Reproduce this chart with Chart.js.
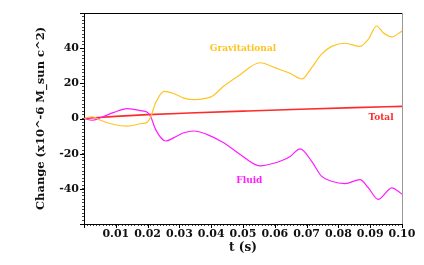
<!DOCTYPE html>
<html><head><meta charset="utf-8">
<script src="https://cdn.jsdelivr.net/npm/chart.js@4/dist/chart.umd.min.js"></script>
<style>html,body{margin:0;padding:0;background:#fff}#w{width:424px;height:265px}</style>
</head><body><div id="w"><canvas id="c" width="424" height="265"></canvas></div>
<script>
const gravT = [0,0.0026,0.0052,0.0094,0.0136,0.0178,0.0199,0.021,0.0225,0.0252,0.0283,0.0314,0.0346,0.0386,0.0403,0.0438,0.049,0.0553,0.0606,0.0648,0.0685,0.0716,0.0747,0.0779,0.0821,0.0868,0.0894,0.092,0.0941,0.0968,0.1];
const gravV = [0,1.0,-1.0,-3.4,-4.3,-3.0,-2.1,1.0,8.8,15.4,14.1,11.6,10.7,11.6,12.6,18.2,24.8,31.7,28.5,25.7,22.5,29,36.6,41,42.8,41,45,52.6,48.8,46.4,49.8];
const fluidT = [0,0.0026,0.0052,0.0094,0.0136,0.0178,0.0199,0.021,0.0225,0.0257,0.0283,0.0314,0.0346,0.0386,0.0438,0.049,0.0553,0.0606,0.0628,0.0648,0.068,0.0716,0.0747,0.0779,0.0821,0.0868,0.0894,0.0925,0.0968,0.1];
const fluidV = [0,-1.0,0.4,3.5,5.6,4.5,3.5,1.0,-6.2,-12.8,-10.9,-8.1,-7.1,-9,-13.7,-20.3,-26.9,-25,-23.5,-21.6,-17.3,-24.4,-32.8,-35.7,-37,-34.8,-39.4,-46,-39.4,-43];
const totalT = [0,0.01,0.02,0.033,0.05,0.068,0.085,0.1];
const totalV = [0,1.2,2.2,3.1,4.2,5.3,6.2,6.9];
const seriesNames = ['Gravitational','Fluid','Total'];
const seriesColors = ['#FFC423','#FF1CFF','#FF2A2A'];
const labelPos = [[0.05,40],[0.052,-35.5],[0.0934,0.5]];
const xTitle = 't (s)';
const yTitle = 'Change (x10^-6 M_sun c^2)';

const pts = (t,v)=>t.map((x,i)=>({x:x,y:v[i]}));
const serif = "'DejaVu Serif', serif";

const labelPlugin = {
  id:'labels',
  afterDatasetsDraw(chart){
    const ctx = chart.ctx, xs = chart.scales.x, ys = chart.scales.y;
    ctx.save();
    ctx.font = "bold 9px " + serif;
    ctx.textAlign='center'; ctx.textBaseline='middle';
    seriesNames.forEach((n,i)=>{
      ctx.fillStyle = seriesColors[i];
      ctx.fillText(n, xs.getPixelForValue(labelPos[i][0]), ys.getPixelForValue(labelPos[i][1]));
    });
    ctx.restore();
  },
  afterDraw(chart){
    // longer major ticks
    const ctx = chart.ctx, xs = chart.scales.x, ys = chart.scales.y, a = chart.chartArea;
    ctx.save();
    ctx.strokeStyle = '#000'; ctx.lineWidth = 1;
    ctx.beginPath();
    xs.ticks.forEach(t=>{ const k=Math.round(t.value*1000); if(k%10===0){ const p=Math.round(xs.getPixelForValue(t.value))+0.5; ctx.moveTo(p,a.bottom); ctx.lineTo(p,a.bottom+4);} });
    ys.ticks.forEach(t=>{ const k=Math.round(t.value); if(k%20===0){ const p=Math.round(ys.getPixelForValue(t.value))+0.5; ctx.moveTo(a.left,p); ctx.lineTo(a.left-4,p);} });
    ctx.stroke();
    ctx.restore();
  }
};

new Chart(document.getElementById('c'), {
  type:'line',
  data:{datasets:[
    {label:seriesNames[0], data:pts(gravT,gravV), borderColor:seriesColors[0], borderWidth:1.2, pointRadius:0, cubicInterpolationMode:'monotone', fill:false},
    {label:seriesNames[1], data:pts(fluidT,fluidV), borderColor:seriesColors[1], borderWidth:1.2, pointRadius:0, cubicInterpolationMode:'monotone', fill:false},
    {label:seriesNames[2], data:pts(totalT,totalV), borderColor:seriesColors[2], borderWidth:1.6, pointRadius:0, cubicInterpolationMode:'monotone', fill:false}
  ]},
  options:{
    responsive:false, animation:false,
    layout:{padding:{left:34,right:22,top:13,bottom:0}},
    plugins:{legend:{display:false}, tooltip:{enabled:false}},
    scales:{
      x:{type:'linear', min:0, max:0.1, position:'bottom',
        afterFit(s){ s.height = 41; },
        grid:{drawOnChartArea:false, tickLength:2, tickColor:'#444', tickWidth:1},
        border:{color:'#000', width:1},
        ticks:{stepSize:0.001, autoSkip:false, maxRotation:0, padding:2, color:'#111',
          font:{family:serif, size:11, weight:'bold'},
          callback(v){ const k=Math.round(v*1000); return (k%10===0 && k>0) ? (k/1000).toFixed(2) : ''; }},
        title:{display:true, text:xTitle, color:'#111', font:{family:serif, size:12, weight:'bold'}, padding:{top:0,bottom:10}}
      },
      x2:{type:'linear', position:'top', min:0, max:0.1, display:true,
        grid:{drawOnChartArea:false, drawTicks:false}, border:{color:'#000', width:1},
        ticks:{display:false}},
      y:{type:'linear', min:-60, max:60, position:'left',
        afterFit(s){ s.width = 50; },
        grid:{drawOnChartArea:false, tickLength:2, tickColor:'#444', tickWidth:1},
        border:{color:'#000', width:1},
        ticks:{stepSize:2, autoSkip:false, padding:3, color:'#111',
          font:{family:serif, size:11, weight:'bold'},
          callback(v){ const k=Math.round(v); return (k%20===0 && Math.abs(k)<60) ? String(k) : ''; }},
        title:{display:true, text:yTitle, color:'#111', font:{family:serif, size:11.5, weight:'bold'}, padding:{top:0,bottom:0}}
      },
      y2:{type:'linear', position:'right', min:-60, max:60, display:true,
        grid:{drawOnChartArea:false, drawTicks:false}, border:{color:'#999', width:1},
        ticks:{display:false}}
    }
  },
  plugins:[labelPlugin]
});
</script></body></html>
